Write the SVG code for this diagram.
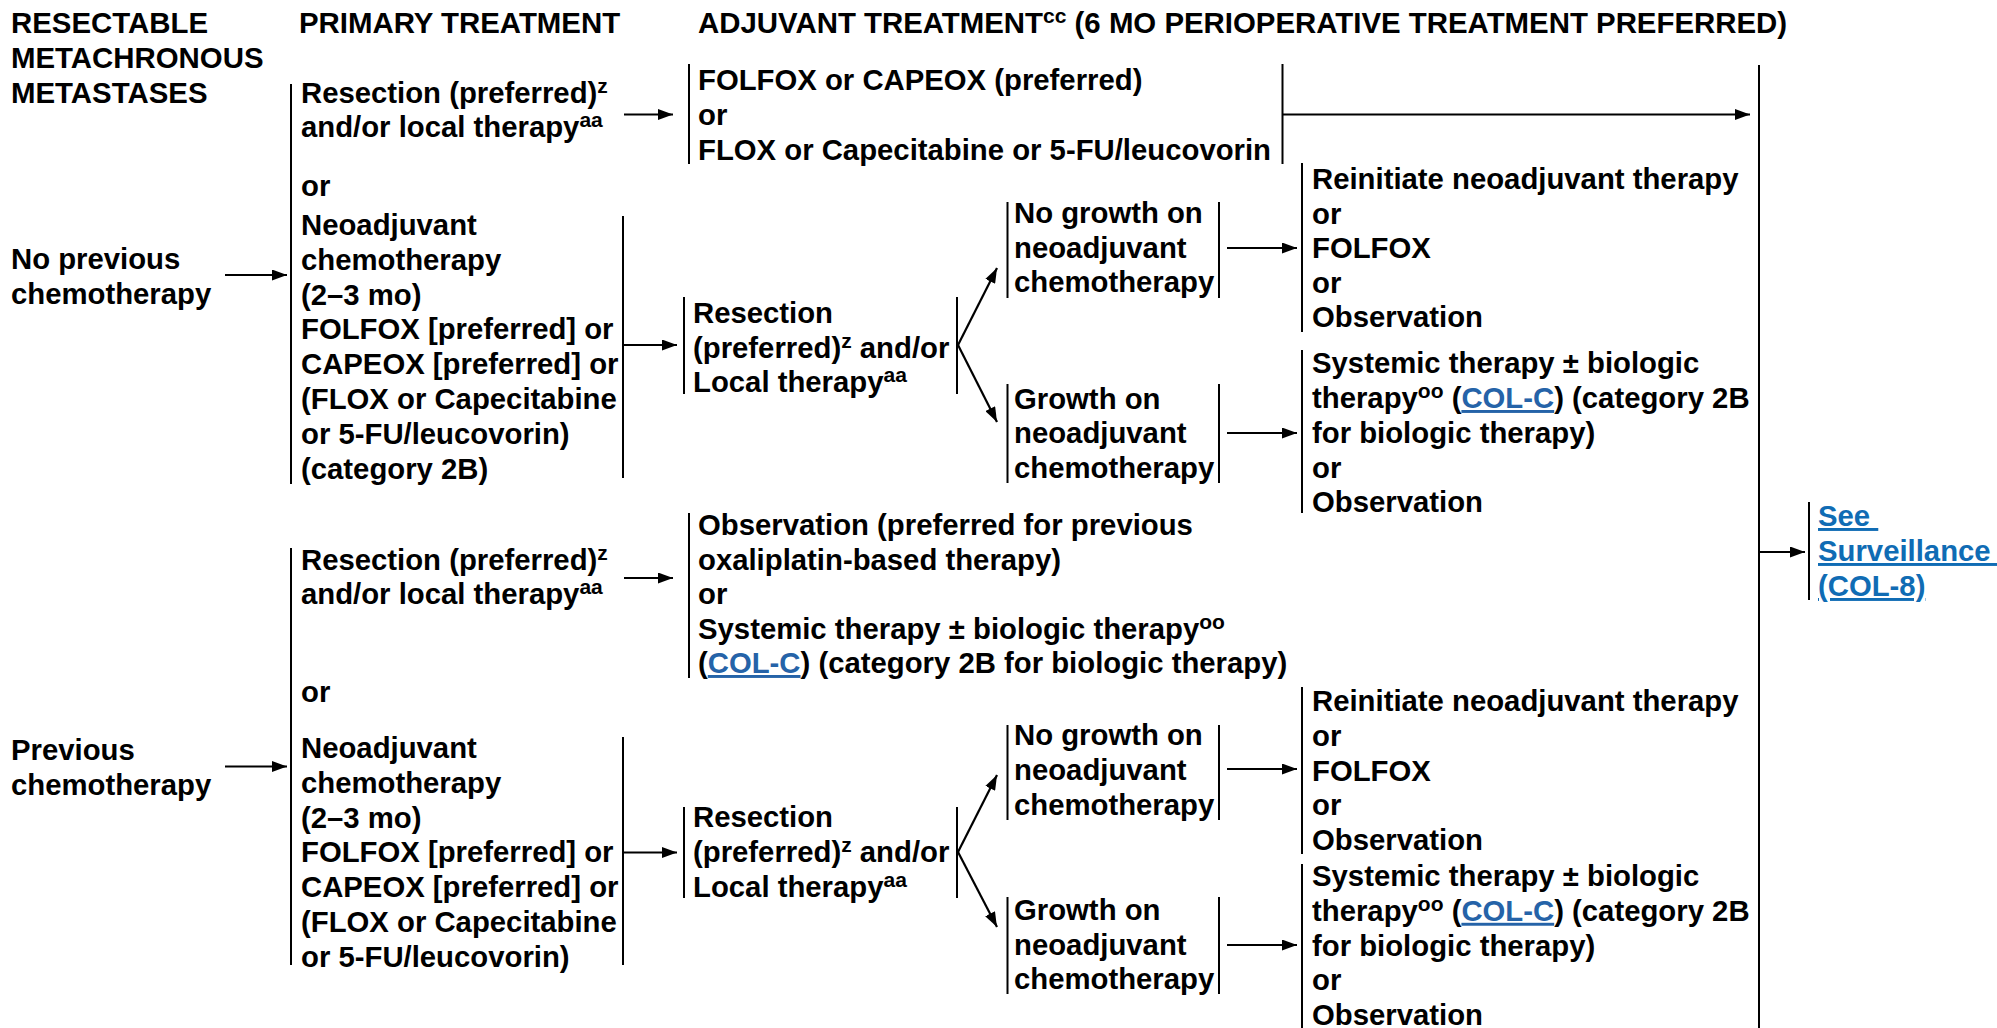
<svg xmlns="http://www.w3.org/2000/svg" width="1997" height="1028" viewBox="0 0 1997 1028">
<defs>
<style>
.t{font-family:"Liberation Sans",Arial,sans-serif;font-size:29.3px;font-weight:bold;fill:#000}
.h{font-size:29.4px}
.sup{font-size:21px}
.lnk{fill:#2563a8;text-decoration:underline}
.lnk2{fill:#106cb4;text-decoration:underline}
.ln{stroke:#000;stroke-width:2;fill:none}
.ar{stroke:#000;stroke-width:2.2;fill:none;marker-end:url(#ah)}
</style>
<marker id="ah" viewBox="0 0 15 11" refX="15" refY="5.5" markerWidth="15" markerHeight="11" markerUnits="userSpaceOnUse" orient="auto">
<path d="M0,0 L15,5.5 L0,11 z" fill="#000"/>
</marker>
</defs>
<rect width="1997" height="1028" fill="#fff"/>

<g id="headers">
<text class="t h"><tspan x="11" y="33">RESECTABLE</tspan><tspan x="11" y="68">METACHRONOUS</tspan><tspan x="11" y="103">METASTASES</tspan></text>
<text class="t h" x="299" y="33">PRIMARY TREATMENT</text>
<text class="t h" x="698" y="33">ADJUVANT TREATMENT<tspan class="sup" dy="-10">cc</tspan><tspan dy="10"> (6 MO PERIOPERATIVE TREATMENT PREFERRED)</tspan></text>
</g>

<g id="noprev">
<text class="t"><tspan x="11" y="269">No previous</tspan><tspan x="11" y="304">chemotherapy</tspan></text>
</g>
<g id="prev">
<text class="t"><tspan x="11" y="760">Previous</tspan><tspan x="11" y="794.5">chemotherapy</tspan></text>
</g>

<g id="prim1">
<line class="ln" x1="291" y1="84" x2="291" y2="484"/>
<text class="t" x="301" y="196">or</text>
</g>
<g id="res1">
<text class="t"><tspan x="301" y="103">Resection (preferred)</tspan><tspan class="sup" dy="-10">z</tspan><tspan x="301" y="137">and/or local therapy</tspan><tspan class="sup" dy="-10">aa</tspan></text>
</g>
<g id="neo1">
<line class="ln" x1="623" y1="216" x2="623" y2="478"/>
<text class="t"><tspan x="301" y="235">Neoadjuvant</tspan><tspan x="301" y="270">chemotherapy</tspan><tspan x="301" y="304.6">(2–3 mo)</tspan><tspan x="301" y="339.4">FOLFOX [preferred] or</tspan><tspan x="301" y="374.2">CAPEOX [preferred] or</tspan><tspan x="301" y="409">(FLOX or Capecitabine</tspan><tspan x="301" y="443.8">or 5-FU/leucovorin)</tspan><tspan x="301" y="478.6">(category 2B)</tspan></text>
</g>

<g id="adj1">
<line class="ln" x1="689" y1="64" x2="689" y2="164"/>
<line class="ln" x1="1282.5" y1="64" x2="1282.5" y2="164"/>
<text class="t"><tspan x="698" y="90">FOLFOX or CAPEOX (preferred)</tspan><tspan x="698" y="125">or</tspan><tspan x="698" y="160">FLOX or Capecitabine or 5-FU/leucovorin</tspan></text>
</g>

<g id="surg1">
<line class="ln" x1="684" y1="297" x2="684" y2="394"/>
<line class="ln" x1="957" y1="297" x2="957" y2="394"/>
<text class="t"><tspan x="693" y="323">Resection</tspan><tspan x="693" y="357.5">(preferred)</tspan><tspan class="sup" dy="-10">z</tspan><tspan dy="10"> and/or</tspan><tspan x="693" y="392">Local therapy</tspan><tspan class="sup" dy="-10">aa</tspan></text>
</g>

<g id="nogrowth1">
<line class="ln" x1="1007.5" y1="202" x2="1007.5" y2="298"/>
<line class="ln" x1="1219" y1="202" x2="1219" y2="298"/>
<text class="t"><tspan x="1014" y="223">No growth on</tspan><tspan x="1014" y="257.5">neoadjuvant</tspan><tspan x="1014" y="292">chemotherapy</tspan></text>
</g>
<g id="growth1">
<line class="ln" x1="1007.5" y1="384" x2="1007.5" y2="483"/>
<line class="ln" x1="1219" y1="384" x2="1219" y2="483"/>
<text class="t"><tspan x="1014" y="408.5">Growth on</tspan><tspan x="1014" y="443">neoadjuvant</tspan><tspan x="1014" y="477.5">chemotherapy</tspan></text>
</g>

<g id="reinit1">
<line class="ln" x1="1302" y1="163" x2="1302" y2="332"/>
<text class="t"><tspan x="1312" y="189">Reinitiate neoadjuvant therapy</tspan><tspan x="1312" y="224">or</tspan><tspan x="1312" y="258">FOLFOX</tspan><tspan x="1312" y="293">or</tspan><tspan x="1312" y="327">Observation</tspan></text>
</g>
<g id="sys1">
<line class="ln" x1="1302" y1="350" x2="1302" y2="513"/>
<text class="t"><tspan x="1312" y="373">Systemic therapy ± biologic</tspan><tspan x="1312" y="408">therapy</tspan><tspan class="sup" dy="-10">oo</tspan><tspan dy="10"> (</tspan><tspan class="lnk">COL-C</tspan><tspan>) (category 2B</tspan><tspan x="1312" y="443">for biologic therapy)</tspan><tspan x="1312" y="477.5">or</tspan><tspan x="1312" y="512">Observation</tspan></text>
</g>

<g id="prim2">
<line class="ln" x1="291" y1="548" x2="291" y2="965"/>
<text class="t" x="301" y="702">or</text>
</g>
<g id="res2">
<text class="t"><tspan x="301" y="570">Resection (preferred)</tspan><tspan class="sup" dy="-10">z</tspan><tspan x="301" y="604">and/or local therapy</tspan><tspan class="sup" dy="-10">aa</tspan></text>
</g>
<g id="obs2">
<line class="ln" x1="689" y1="513" x2="689" y2="678"/>
<text class="t"><tspan x="698" y="535">Observation (preferred for previous</tspan><tspan x="698" y="569.5">oxaliplatin-based therapy)</tspan><tspan x="698" y="604">or</tspan><tspan x="698" y="638.5">Systemic therapy ± biologic therapy</tspan><tspan class="sup" dy="-10">oo</tspan><tspan x="698" y="673">(</tspan><tspan class="lnk">COL-C</tspan><tspan>) (category 2B for biologic therapy)</tspan></text>
</g>
<g id="neo2">
<line class="ln" x1="623" y1="737" x2="623" y2="965"/>
<text class="t"><tspan x="301" y="758">Neoadjuvant</tspan><tspan x="301" y="792.8">chemotherapy</tspan><tspan x="301" y="827.6">(2–3 mo)</tspan><tspan x="301" y="862.4">FOLFOX [preferred] or</tspan><tspan x="301" y="897.2">CAPEOX [preferred] or</tspan><tspan x="301" y="932">(FLOX or Capecitabine</tspan><tspan x="301" y="966.8">or 5-FU/leucovorin)</tspan></text>
</g>

<g id="surg2">
<line class="ln" x1="684" y1="807" x2="684" y2="898"/>
<line class="ln" x1="957" y1="807" x2="957" y2="898"/>
<text class="t"><tspan x="693" y="827">Resection</tspan><tspan x="693" y="862">(preferred)</tspan><tspan class="sup" dy="-10">z</tspan><tspan dy="10"> and/or</tspan><tspan x="693" y="896.5">Local therapy</tspan><tspan class="sup" dy="-10">aa</tspan></text>
</g>

<g id="nogrowth2">
<line class="ln" x1="1007.5" y1="725" x2="1007.5" y2="820"/>
<line class="ln" x1="1219" y1="725" x2="1219" y2="820"/>
<text class="t"><tspan x="1014" y="745">No growth on</tspan><tspan x="1014" y="780">neoadjuvant</tspan><tspan x="1014" y="814.5">chemotherapy</tspan></text>
</g>
<g id="growth2">
<line class="ln" x1="1007.5" y1="897" x2="1007.5" y2="994"/>
<line class="ln" x1="1219" y1="897" x2="1219" y2="994"/>
<text class="t"><tspan x="1014" y="920">Growth on</tspan><tspan x="1014" y="954.5">neoadjuvant</tspan><tspan x="1014" y="989">chemotherapy</tspan></text>
</g>

<g id="reinit2">
<line class="ln" x1="1302" y1="687" x2="1302" y2="854"/>
<text class="t"><tspan x="1312" y="711">Reinitiate neoadjuvant therapy</tspan><tspan x="1312" y="745.8">or</tspan><tspan x="1312" y="780.6">FOLFOX</tspan><tspan x="1312" y="815.4">or</tspan><tspan x="1312" y="850.2">Observation</tspan></text>
</g>
<g id="sys2">
<line class="ln" x1="1302" y1="864" x2="1302" y2="1028"/>
<text class="t"><tspan x="1312" y="886">Systemic therapy ± biologic</tspan><tspan x="1312" y="920.8">therapy</tspan><tspan class="sup" dy="-10">oo</tspan><tspan dy="10"> (</tspan><tspan class="lnk">COL-C</tspan><tspan>) (category 2B</tspan><tspan x="1312" y="955.6">for biologic therapy)</tspan><tspan x="1312" y="990.4">or</tspan><tspan x="1312" y="1024.5">Observation</tspan></text>
</g>

<g id="surveillance">
<line class="ln" x1="1809" y1="502" x2="1809" y2="600"/>
<text class="t lnk2"><tspan x="1818" y="526">See&#160;</tspan><tspan x="1818" y="561">Surveillance&#160;</tspan><tspan x="1818" y="596">(COL-8)</tspan></text>
</g>

<g id="connectors">
<line class="ar" x1="225" y1="275" x2="287" y2="275"/>
<line class="ar" x1="225" y1="766.5" x2="287" y2="766.5"/>
<line class="ar" x1="624" y1="114.5" x2="673" y2="114.5"/>
<line class="ar" x1="1283" y1="114.5" x2="1750" y2="114.5"/>
<line class="ar" x1="623" y1="345" x2="677" y2="345"/>
<line class="ar" x1="958" y1="345" x2="997" y2="268"/>
<line class="ar" x1="958" y1="345" x2="997" y2="422"/>
<line class="ar" x1="1227" y1="248" x2="1297" y2="248"/>
<line class="ar" x1="1227" y1="433" x2="1297" y2="433"/>
<line class="ar" x1="624" y1="578" x2="673" y2="578"/>
<line class="ar" x1="623" y1="852.5" x2="677" y2="852.5"/>
<line class="ar" x1="958" y1="852" x2="997" y2="775"/>
<line class="ar" x1="958" y1="852" x2="997" y2="927"/>
<line class="ar" x1="1227" y1="769" x2="1297" y2="769"/>
<line class="ar" x1="1227" y1="945" x2="1297" y2="945"/>
<line class="ln" x1="1759" y1="65" x2="1759" y2="1028"/>
<line class="ar" x1="1759" y1="552" x2="1805" y2="552"/>
</g>
</svg>
